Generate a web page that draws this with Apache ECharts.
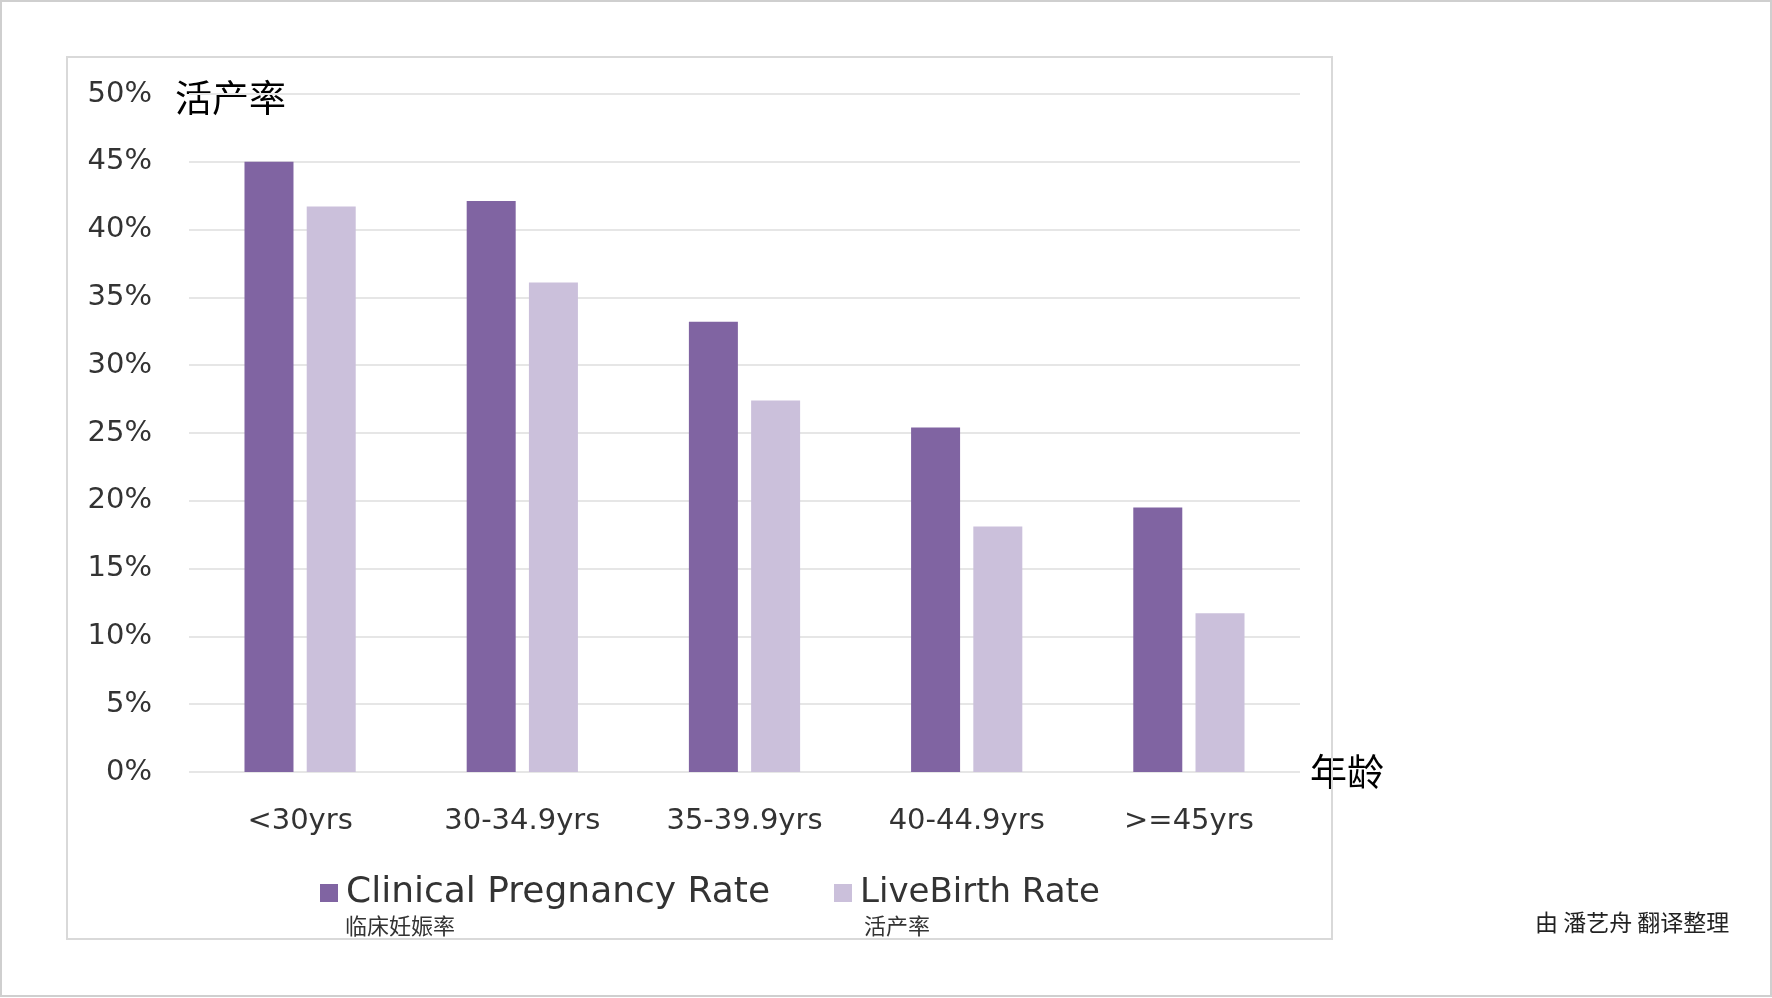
<!DOCTYPE html>
<html><head><meta charset="utf-8">
<script src="https://cdn.jsdelivr.net/npm/echarts@6/dist/echarts.min.js"></script>
<style>html,body{margin:0;padding:0;background:#fff}#c{width:1772px;height:998px}</style>
</head><body><div id="c"></div>
<script>
const categories = ['<30yrs', '30-34.9yrs', '35-39.9yrs', '40-44.9yrs', '>=45yrs'];
const clinicalPregnancyRate = [45.0, 42.1, 33.2, 25.4, 19.5];
const liveBirthRate = [41.7, 36.1, 27.4, 18.1, 11.7];
const seriesNames = ['Clinical Pregnancy Rate', 'LiveBirth Rate'];
const seriesNamesZh = ['临床妊娠率', '活产率'];
const yAxisTitle = '活产率';
const xAxisTitle = '年龄';
const credit = '由 潘艺舟 翻译整理';

const LAT = 'DejaVu Sans';
const CJK = 'Noto Sans CJK SC';
const dark = '#8064A2', light = '#CBC0DB';
const txt = '#333333';

const chart = echarts.init(document.getElementById('c'), null, {renderer: 'canvas'});
chart.setOption({
  backgroundColor: '#fff',
  animation: false,
  grid: {left: 189, right: 472, top: 94, bottom: 226, containLabel: false},
  xAxis: {
    type: 'category', data: categories,
    axisLine: {show: false}, axisTick: {show: false},
    axisLabel: {color: txt, fontFamily: LAT, fontSize: 29, margin: 35},
    name: xAxisTitle, nameLocation: 'end', nameGap: 10,
    nameTextStyle: {color: '#000', fontFamily: CJK, fontSize: 37, verticalAlign: 'middle', align: 'left', padding: [16, 0, 0, 0]}
  },
  yAxis: {
    type: 'value', min: 0, max: 50, interval: 5,
    axisLine: {show: false}, axisTick: {show: false},
    axisLabel: {color: txt, fontFamily: LAT, fontSize: 29, margin: 37, formatter: '{value}%', padding: [8, 0, 0, 0]},
    splitLine: {lineStyle: {color: '#e6e6e6', width: 2}}
  },
  legend: [
    {data: [seriesNames[0]], left: 315, top: 868, icon: 'rect', itemWidth: 18, itemHeight: 18,
     textStyle: {color: txt, fontFamily: LAT, fontSize: 36, lineHeight: 40, padding: [0,0,0,3]}},
    {data: [seriesNames[1]], left: 829, top: 868, icon: 'rect', itemWidth: 18, itemHeight: 18,
     textStyle: {color: txt, fontFamily: LAT, fontSize: 34, lineHeight: 40, padding: [0,0,0,3]}}
  ],
  series: [
    {name: seriesNames[0], type: 'bar', data: clinicalPregnancyRate, barWidth: 49, barGap: '27%',
     itemStyle: {color: dark}},
    {name: seriesNames[1], type: 'bar', data: liveBirthRate, barWidth: 49,
     itemStyle: {color: light}}
  ],
  graphic: [
    {type: 'rect', shape: {x: 1, y: 1, width: 1770, height: 995}, style: {fill: 'none', stroke: '#cfcfcf', lineWidth: 2}, z: 100},
    {type: 'rect', shape: {x: 67, y: 57, width: 1265, height: 882}, style: {fill: 'none', stroke: '#d9d9d9', lineWidth: 2}, z: 100},
    {type: 'text', style: {text: yAxisTitle, x: 175, y: 98, fill: '#000', fontFamily: CJK, fontSize: 37, verticalAlign: 'middle'}},
    {type: 'text', style: {text: seriesNamesZh[0], x: 345, y: 926, fill: '#333', fontFamily: CJK, fontSize: 22, verticalAlign: 'middle'}},
    {type: 'text', style: {text: seriesNamesZh[1], x: 864, y: 926, fill: '#333', fontFamily: CJK, fontSize: 22, verticalAlign: 'middle'}},
    {type: 'text', style: {text: credit, x: 1535, y: 922, fill: '#222', fontFamily: CJK, fontSize: 23, verticalAlign: 'middle'}}
  ]
});
</script></body></html>
